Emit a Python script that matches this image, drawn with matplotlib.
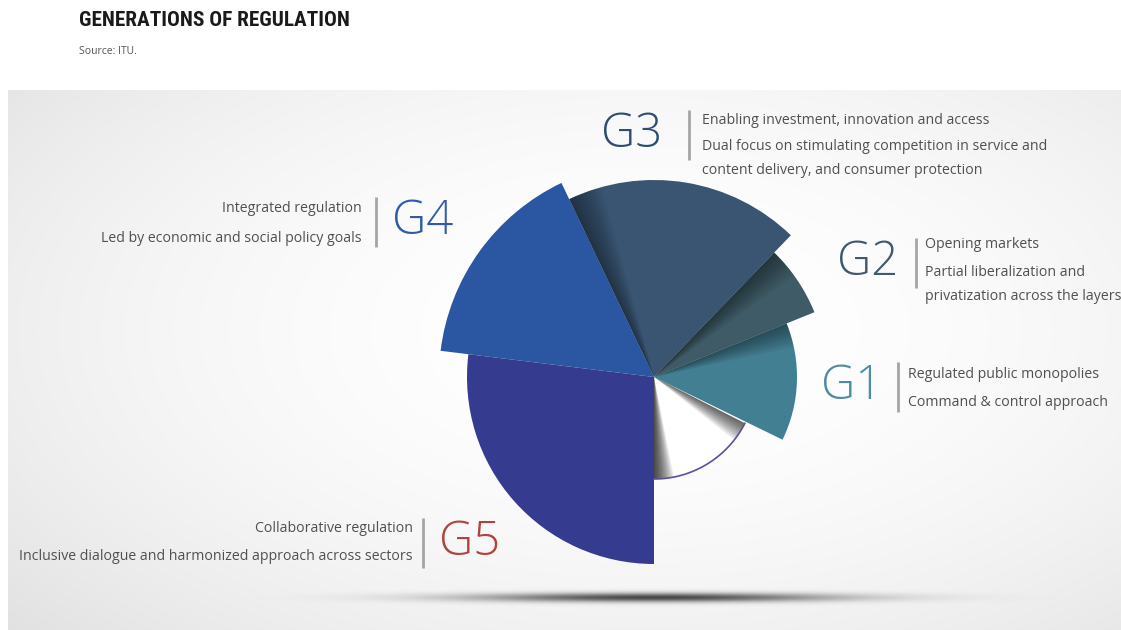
import numpy as np
import matplotlib.pyplot as plt
from matplotlib import font_manager as fm

# wedges, counter-clockwise from east (degrees); the first one is the blank base slice
segments = ['base', 'G1', 'G2', 'G3', 'G4', 'G5']
start_deg = [-90, -26, 22, 46, 115.5, 173]
end_deg = [-27, 22, 46, 115.5, 173, 270]
radius = [102, 143, 173, 197, 215, 187]
seg_colors = ['#ffffff', '#437f92', '#3f5b67', '#3a5572', '#2a56a2', '#353b8f']

labels = ['G1', 'G2', 'G3', 'G4', 'G5']
label_colors = ['#4a8ea2', '#3f5a6a', '#2f4d72', '#2f5ba9', '#b1433f']
descriptions = [
    ['Regulated public monopolies', 'Command & control approach'],
    ['Opening markets', 'Partial liberalization and', 'privatization across the layers'],
    ['Enabling investment, innovation and access',
     'Dual focus on stimulating competition in service and',
     'content delivery, and consumer protection'],
    ['Integrated regulation', 'Led by economic and social policy goals'],
    ['Collaborative regulation', 'Inclusive dialogue and harmonized approach across sectors'],
]


def pick_condensed():
    # look for any narrow bold face, else fall back to DejaVu Sans
    for fam in ['Roboto Condensed', 'Liberation Sans Narrow', 'Open Sans Condensed',
                'DejaVu Sans Condensed', 'Noto Sans Condensed']:
        try:
            fm.findfont(fm.FontProperties(family=fam, weight='bold'), fallback_to_default=False)
            return fam, 'normal', 15.3
        except ValueError:
            pass
    for fam in ['Roboto', 'Noto Sans', 'DejaVu Sans', 'Open Sans']:
        f = fm.findfont(fm.FontProperties(family=fam, weight='bold', stretch='condensed'))
        if 'ondensed' in f or 'arrow' in f:
            return fam, 'condensed', 15.3
    return 'DejaVu Sans', 'normal', 12.5


title_family, title_stretch, title_size = pick_condensed()

W, H = 1121, 630
fig = plt.figure(figsize=(W / 100, H / 100), dpi=100)
fig.patch.set_facecolor('white')

# background layer in pixel coordinates
bg = fig.add_axes([0, 0, 1, 1])
bg.set_xlim(0, W)
bg.set_ylim(H, 0)
bg.axis('off')

# soft grey panel with a light centre
yy, xx = np.mgrid[90:H, 8:W]
d = np.sqrt(((xx - 640) / 680.0) ** 2 + ((yy - 330) / 360.0) ** 2)
g = 1 - 0.075 * np.clip(d, 0, 1.4) ** 2
panel = np.dstack([g, g, g])
bg.imshow(panel, extent=(8, W, H, 90), aspect='auto', zorder=0)

# floor shadow under the pie
sy, sx = np.mgrid[575:620, 200:1110]
a = np.exp(-((sx - 655) / 180.0) ** 2 - ((sy - 597) / 4.5) ** 2) * 0.7
shadow = np.zeros(sx.shape + (4,))
shadow[..., 3] = a
bg.imshow(shadow, extent=(200, 1110, 620, 575), aspect='auto', zorder=1)

# title and source
bg.text(79, 21, 'GENERATIONS OF REGULATION', fontsize=title_size, fontweight='bold',
        family=title_family, fontstretch=title_stretch, color='#1a1a1a', va='center')
bg.text(79, 52, 'Source: ITU.', fontsize=7.5, family='Open Sans', color='#555555', va='center')

# label blocks: (big label centre x, y, separator x, text x, text align, line ys)
layout = {
    'G1': (852, 387, 898, 908, 'left', [375, 403]),
    'G2': (868, 263, 916, 925, 'left', [245, 272, 296]),
    'G3': (632, 135, 689, 702, 'left', [120, 147, 170]),
    'G4': (423, 222, 376, 362, 'right', [209, 239]),
    'G5': (470, 543, 423, 413, 'right', [529, 556]),
}
for lab, col, lines in zip(labels, label_colors, descriptions):
    gx, gy, sx_, tx, ha, ys = layout[lab]
    bg.text(gx, gy, lab, fontsize=34, fontweight='light', family='Open Sans',
            color=col, ha='center', va='center')
    bg.plot([sx_, sx_], [gy - 25, gy + 25], color='#a5a5a5', lw=2, solid_capstyle='butt')
    for line, ly in zip(lines, ys):
        bg.text(tx, ly, line, fontsize=10.2, family='Open Sans', color='#505050',
                ha=ha, va='center')

# the pie itself on a polar axes centred at (654, 377) px
R = 220
cx, cy = 654, 377
ax = fig.add_axes([(cx - R) / W, (H - cy - R) / H, 2 * R / W, 2 * R / H], projection='polar')
ax.set_facecolor('none')
ax.set_ylim(0, R)
ax.axis('off')

th0 = np.deg2rad(start_deg)
wid = np.deg2rad(np.array(end_deg) - np.array(start_deg))
ax.bar(th0, radius, width=wid, bottom=0, align='edge', color=seg_colors,
       edgecolor='none', linewidth=0, zorder=2)

# shading near the overlapped edges
for i in [1, 2, 3]:
    for k in range(10):
        w = np.deg2rad(1.0 * (k + 1))
        ax.bar(np.deg2rad(end_deg[i]) - w, radius[i], width=w, bottom=0, align='edge',
               color='black', alpha=0.045, edgecolor='none', zorder=3)

# dark gradient inside the blank slice
for k in range(14):
    w = np.deg2rad(0.8 * (k + 1))
    ax.bar(np.deg2rad(start_deg[0]), radius[0], width=w, bottom=0, align='edge',
           color='black', alpha=0.08, edgecolor='none', zorder=3)
    ax.bar(np.deg2rad(end_deg[0]) - w, radius[0], width=w, bottom=0, align='edge',
           color='black', alpha=0.06, edgecolor='none', zorder=3)
arc = np.linspace(th0[0], np.deg2rad(end_deg[0]), 60)
ax.plot(arc, np.full_like(arc, radius[0]), color='#5a509e', lw=1.2, zorder=4)

fig.savefig('out.png', dpi=100)
